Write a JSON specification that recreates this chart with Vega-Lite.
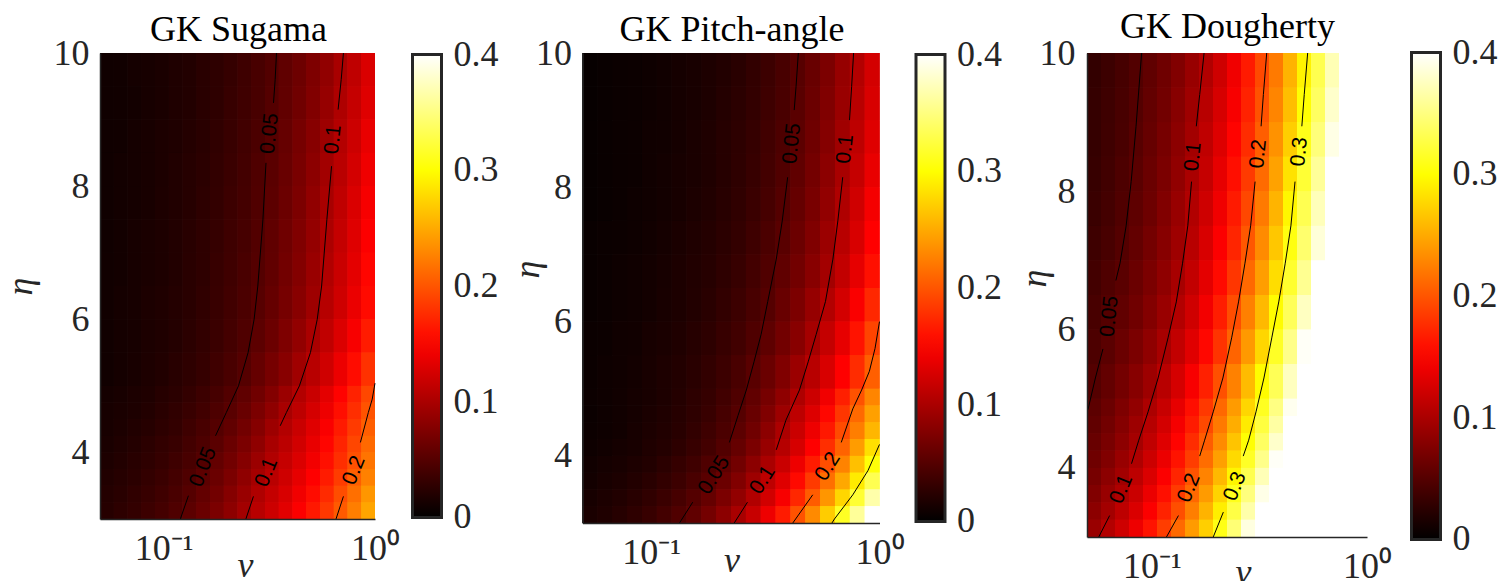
{
"$schema":"https://vega.github.io/schema/vega-lite/v6.json",
"background":"white",
"padding":{"left":2,"top":8,"right":0,"bottom":0},
"config":{"view":{"stroke":null}},
"datasets":{
"grid":[
{"nu":0.0539,"e1":9.5,"e2":10,"S":0.009,"P":0.004,"D":0.030},{"nu":0.0626,"e1":9.5,"e2":10,"S":0.010,"P":0.005,"D":0.035},{"nu":0.0727,"e1":9.5,"e2":10,"S":0.012,"P":0.006,"D":0.041},{"nu":0.0845,"e1":9.5,"e2":10,"S":0.013,"P":0.007,"D":0.048},{"nu":0.0981,"e1":9.5,"e2":10,"S":0.015,"P":0.008,"D":0.056},{"nu":0.114,"e1":9.5,"e2":10,"S":0.018,"P":0.010,"D":0.065},{"nu":0.1323,"e1":9.5,"e2":10,"S":0.020,"P":0.012,"D":0.076},{"nu":0.1537,"e1":9.5,"e2":10,"S":0.024,"P":0.014,"D":0.089},{"nu":0.1786,"e1":9.5,"e2":10,"S":0.027,"P":0.017,"D":0.104},{"nu":0.2074,"e1":9.5,"e2":10,"S":0.031,"P":0.020,"D":0.121},{"nu":0.241,"e1":9.5,"e2":10,"S":0.036,"P":0.024,"D":0.142},{"nu":0.2799,"e1":9.5,"e2":10,"S":0.042,"P":0.029,"D":0.165},{"nu":0.3252,"e1":9.5,"e2":10,"S":0.048,"P":0.035,"D":0.193},{"nu":0.3777,"e1":9.5,"e2":10,"S":0.056,"P":0.042,"D":0.222},{"nu":0.4387,"e1":9.5,"e2":10,"S":0.064,"P":0.051,"D":0.255},{"nu":0.5096,"e1":9.5,"e2":10,"S":0.074,"P":0.061,"D":0.293},{"nu":0.592,"e1":9.5,"e2":10,"S":0.085,"P":0.073,"D":0.331},{"nu":0.6876,"e1":9.5,"e2":10,"S":0.099,"P":0.088,"D":0.371},{"nu":0.7988,"e1":9.5,"e2":10,"S":0.112,"P":0.105,"D":0.416},{"nu":0.9278,"e1":9.5,"e2":10,"S":0.128,"P":0.124,"D":0.467},
{"nu":0.0539,"e1":9,"e2":9.5,"S":0.009,"P":0.004,"D":0.031},{"nu":0.0626,"e1":9,"e2":9.5,"S":0.010,"P":0.005,"D":0.036},{"nu":0.0727,"e1":9,"e2":9.5,"S":0.011,"P":0.006,"D":0.042},{"nu":0.0845,"e1":9,"e2":9.5,"S":0.013,"P":0.007,"D":0.049},{"nu":0.0981,"e1":9,"e2":9.5,"S":0.015,"P":0.008,"D":0.058},{"nu":0.114,"e1":9,"e2":9.5,"S":0.018,"P":0.010,"D":0.067},{"nu":0.1323,"e1":9,"e2":9.5,"S":0.020,"P":0.012,"D":0.079},{"nu":0.1537,"e1":9,"e2":9.5,"S":0.024,"P":0.014,"D":0.093},{"nu":0.1786,"e1":9,"e2":9.5,"S":0.027,"P":0.017,"D":0.108},{"nu":0.2074,"e1":9,"e2":9.5,"S":0.032,"P":0.021,"D":0.126},{"nu":0.241,"e1":9,"e2":9.5,"S":0.037,"P":0.025,"D":0.146},{"nu":0.2799,"e1":9,"e2":9.5,"S":0.042,"P":0.030,"D":0.170},{"nu":0.3252,"e1":9,"e2":9.5,"S":0.049,"P":0.036,"D":0.198},{"nu":0.3777,"e1":9,"e2":9.5,"S":0.057,"P":0.043,"D":0.228},{"nu":0.4387,"e1":9,"e2":9.5,"S":0.066,"P":0.052,"D":0.262},{"nu":0.5096,"e1":9,"e2":9.5,"S":0.076,"P":0.063,"D":0.301},{"nu":0.592,"e1":9,"e2":9.5,"S":0.088,"P":0.075,"D":0.338},{"nu":0.6876,"e1":9,"e2":9.5,"S":0.102,"P":0.090,"D":0.380},{"nu":0.7988,"e1":9,"e2":9.5,"S":0.116,"P":0.108,"D":0.426},{"nu":0.9278,"e1":9,"e2":9.5,"S":0.131,"P":0.127,"D":0.478},
{"nu":0.0539,"e1":8.5,"e2":9,"S":0.009,"P":0.004,"D":0.031},{"nu":0.0626,"e1":8.5,"e2":9,"S":0.010,"P":0.005,"D":0.037},{"nu":0.0727,"e1":8.5,"e2":9,"S":0.012,"P":0.006,"D":0.043},{"nu":0.0845,"e1":8.5,"e2":9,"S":0.014,"P":0.007,"D":0.051},{"nu":0.0981,"e1":8.5,"e2":9,"S":0.016,"P":0.009,"D":0.060},{"nu":0.114,"e1":8.5,"e2":9,"S":0.018,"P":0.010,"D":0.070},{"nu":0.1323,"e1":8.5,"e2":9,"S":0.021,"P":0.012,"D":0.082},{"nu":0.1537,"e1":8.5,"e2":9,"S":0.024,"P":0.015,"D":0.096},{"nu":0.1786,"e1":8.5,"e2":9,"S":0.028,"P":0.018,"D":0.112},{"nu":0.2074,"e1":8.5,"e2":9,"S":0.033,"P":0.022,"D":0.130},{"nu":0.241,"e1":8.5,"e2":9,"S":0.038,"P":0.026,"D":0.152},{"nu":0.2799,"e1":8.5,"e2":9,"S":0.044,"P":0.031,"D":0.176},{"nu":0.3252,"e1":8.5,"e2":9,"S":0.051,"P":0.038,"D":0.205},{"nu":0.3777,"e1":8.5,"e2":9,"S":0.059,"P":0.045,"D":0.236},{"nu":0.4387,"e1":8.5,"e2":9,"S":0.069,"P":0.054,"D":0.271},{"nu":0.5096,"e1":8.5,"e2":9,"S":0.079,"P":0.065,"D":0.310},{"nu":0.592,"e1":8.5,"e2":9,"S":0.092,"P":0.078,"D":0.348},{"nu":0.6876,"e1":8.5,"e2":9,"S":0.106,"P":0.094,"D":0.390},{"nu":0.7988,"e1":8.5,"e2":9,"S":0.120,"P":0.111,"D":0.438},{"nu":0.9278,"e1":8.5,"e2":9,"S":0.137,"P":0.131,"D":0.492},
{"nu":0.0539,"e1":8,"e2":8.5,"S":0.009,"P":0.004,"D":0.032},{"nu":0.0626,"e1":8,"e2":8.5,"S":0.011,"P":0.005,"D":0.038},{"nu":0.0727,"e1":8,"e2":8.5,"S":0.012,"P":0.006,"D":0.045},{"nu":0.0845,"e1":8,"e2":8.5,"S":0.014,"P":0.007,"D":0.053},{"nu":0.0981,"e1":8,"e2":8.5,"S":0.016,"P":0.009,"D":0.062},{"nu":0.114,"e1":8,"e2":8.5,"S":0.019,"P":0.011,"D":0.072},{"nu":0.1323,"e1":8,"e2":8.5,"S":0.022,"P":0.013,"D":0.085},{"nu":0.1537,"e1":8,"e2":8.5,"S":0.025,"P":0.015,"D":0.100},{"nu":0.1786,"e1":8,"e2":8.5,"S":0.029,"P":0.018,"D":0.116},{"nu":0.2074,"e1":8,"e2":8.5,"S":0.034,"P":0.022,"D":0.136},{"nu":0.241,"e1":8,"e2":8.5,"S":0.039,"P":0.027,"D":0.158},{"nu":0.2799,"e1":8,"e2":8.5,"S":0.046,"P":0.032,"D":0.184},{"nu":0.3252,"e1":8,"e2":8.5,"S":0.053,"P":0.039,"D":0.213},{"nu":0.3777,"e1":8,"e2":8.5,"S":0.061,"P":0.047,"D":0.245},{"nu":0.4387,"e1":8,"e2":8.5,"S":0.071,"P":0.056,"D":0.283},{"nu":0.5096,"e1":8,"e2":8.5,"S":0.082,"P":0.068,"D":0.321},{"nu":0.592,"e1":8,"e2":8.5,"S":0.095,"P":0.082,"D":0.360},{"nu":0.6876,"e1":8,"e2":8.5,"S":0.109,"P":0.099,"D":0.404},{"nu":0.7988,"e1":8,"e2":8.5,"S":0.124,"P":0.116,"D":0.454},{"nu":0.9278,"e1":8,"e2":8.5,"S":0.141,"P":0.137,"D":0.509},
{"nu":0.0539,"e1":7.5,"e2":8,"S":0.009,"P":0.004,"D":0.034},{"nu":0.0626,"e1":7.5,"e2":8,"S":0.011,"P":0.005,"D":0.040},{"nu":0.0727,"e1":7.5,"e2":8,"S":0.012,"P":0.006,"D":0.047},{"nu":0.0845,"e1":7.5,"e2":8,"S":0.014,"P":0.008,"D":0.055},{"nu":0.0981,"e1":7.5,"e2":8,"S":0.017,"P":0.009,"D":0.064},{"nu":0.114,"e1":7.5,"e2":8,"S":0.019,"P":0.011,"D":0.076},{"nu":0.1323,"e1":7.5,"e2":8,"S":0.022,"P":0.013,"D":0.089},{"nu":0.1537,"e1":7.5,"e2":8,"S":0.026,"P":0.016,"D":0.104},{"nu":0.1786,"e1":7.5,"e2":8,"S":0.030,"P":0.019,"D":0.121},{"nu":0.2074,"e1":7.5,"e2":8,"S":0.035,"P":0.023,"D":0.141},{"nu":0.241,"e1":7.5,"e2":8,"S":0.040,"P":0.028,"D":0.165},{"nu":0.2799,"e1":7.5,"e2":8,"S":0.047,"P":0.034,"D":0.192},{"nu":0.3252,"e1":7.5,"e2":8,"S":0.054,"P":0.041,"D":0.222},{"nu":0.3777,"e1":7.5,"e2":8,"S":0.063,"P":0.049,"D":0.256},{"nu":0.4387,"e1":7.5,"e2":8,"S":0.073,"P":0.059,"D":0.295},{"nu":0.5096,"e1":7.5,"e2":8,"S":0.085,"P":0.071,"D":0.332},{"nu":0.592,"e1":7.5,"e2":8,"S":0.099,"P":0.086,"D":0.373},{"nu":0.6876,"e1":7.5,"e2":8,"S":0.112,"P":0.103,"D":0.418},{"nu":0.7988,"e1":7.5,"e2":8,"S":0.128,"P":0.122,"D":0.470},{"nu":0.9278,"e1":7.5,"e2":8,"S":0.145,"P":0.144,"D":0.527},
{"nu":0.0539,"e1":7,"e2":7.5,"S":0.009,"P":0.005,"D":0.036},{"nu":0.0626,"e1":7,"e2":7.5,"S":0.011,"P":0.006,"D":0.042},{"nu":0.0727,"e1":7,"e2":7.5,"S":0.013,"P":0.007,"D":0.049},{"nu":0.0845,"e1":7,"e2":7.5,"S":0.015,"P":0.008,"D":0.058},{"nu":0.0981,"e1":7,"e2":7.5,"S":0.017,"P":0.010,"D":0.068},{"nu":0.114,"e1":7,"e2":7.5,"S":0.020,"P":0.012,"D":0.079},{"nu":0.1323,"e1":7,"e2":7.5,"S":0.023,"P":0.015,"D":0.093},{"nu":0.1537,"e1":7,"e2":7.5,"S":0.027,"P":0.018,"D":0.108},{"nu":0.1786,"e1":7,"e2":7.5,"S":0.031,"P":0.021,"D":0.127},{"nu":0.2074,"e1":7,"e2":7.5,"S":0.036,"P":0.025,"D":0.148},{"nu":0.241,"e1":7,"e2":7.5,"S":0.041,"P":0.030,"D":0.172},{"nu":0.2799,"e1":7,"e2":7.5,"S":0.048,"P":0.036,"D":0.201},{"nu":0.3252,"e1":7,"e2":7.5,"S":0.056,"P":0.044,"D":0.232},{"nu":0.3777,"e1":7,"e2":7.5,"S":0.065,"P":0.052,"D":0.267},{"nu":0.4387,"e1":7,"e2":7.5,"S":0.075,"P":0.063,"D":0.306},{"nu":0.5096,"e1":7,"e2":7.5,"S":0.087,"P":0.075,"D":0.343},{"nu":0.592,"e1":7,"e2":7.5,"S":0.101,"P":0.091,"D":0.385},{"nu":0.6876,"e1":7,"e2":7.5,"S":0.115,"P":0.108,"D":0.432},{"nu":0.7988,"e1":7,"e2":7.5,"S":0.131,"P":0.127,"D":0.485},{"nu":0.9278,"e1":7,"e2":7.5,"S":0.149,"P":0.150,"D":0.545},
{"nu":0.0539,"e1":6.5,"e2":7,"S":0.010,"P":0.005,"D":0.039},{"nu":0.0626,"e1":6.5,"e2":7,"S":0.011,"P":0.006,"D":0.046},{"nu":0.0727,"e1":6.5,"e2":7,"S":0.013,"P":0.008,"D":0.053},{"nu":0.0845,"e1":6.5,"e2":7,"S":0.015,"P":0.009,"D":0.062},{"nu":0.0981,"e1":6.5,"e2":7,"S":0.017,"P":0.011,"D":0.072},{"nu":0.114,"e1":6.5,"e2":7,"S":0.020,"P":0.013,"D":0.084},{"nu":0.1323,"e1":6.5,"e2":7,"S":0.024,"P":0.016,"D":0.098},{"nu":0.1537,"e1":6.5,"e2":7,"S":0.027,"P":0.019,"D":0.114},{"nu":0.1786,"e1":6.5,"e2":7,"S":0.032,"P":0.022,"D":0.134},{"nu":0.2074,"e1":6.5,"e2":7,"S":0.037,"P":0.027,"D":0.156},{"nu":0.241,"e1":6.5,"e2":7,"S":0.043,"P":0.032,"D":0.182},{"nu":0.2799,"e1":6.5,"e2":7,"S":0.049,"P":0.039,"D":0.212},{"nu":0.3252,"e1":6.5,"e2":7,"S":0.057,"P":0.047,"D":0.243},{"nu":0.3777,"e1":6.5,"e2":7,"S":0.067,"P":0.056,"D":0.280},{"nu":0.4387,"e1":6.5,"e2":7,"S":0.077,"P":0.067,"D":0.318},{"nu":0.5096,"e1":6.5,"e2":7,"S":0.090,"P":0.080,"D":0.357},{"nu":0.592,"e1":6.5,"e2":7,"S":0.104,"P":0.096,"D":0.401},{"nu":0.6876,"e1":6.5,"e2":7,"S":0.118,"P":0.114,"D":0.449},{"nu":0.7988,"e1":6.5,"e2":7,"S":0.134,"P":0.135,"D":0.505},{"nu":0.9278,"e1":6.5,"e2":7,"S":0.153,"P":0.159,"D":0.566},
{"nu":0.0539,"e1":6,"e2":6.5,"S":0.010,"P":0.005,"D":0.042},{"nu":0.0626,"e1":6,"e2":6.5,"S":0.012,"P":0.006,"D":0.049},{"nu":0.0727,"e1":6,"e2":6.5,"S":0.013,"P":0.008,"D":0.057},{"nu":0.0845,"e1":6,"e2":6.5,"S":0.016,"P":0.009,"D":0.066},{"nu":0.0981,"e1":6,"e2":6.5,"S":0.018,"P":0.011,"D":0.077},{"nu":0.114,"e1":6,"e2":6.5,"S":0.021,"P":0.014,"D":0.090},{"nu":0.1323,"e1":6,"e2":6.5,"S":0.024,"P":0.016,"D":0.105},{"nu":0.1537,"e1":6,"e2":6.5,"S":0.028,"P":0.020,"D":0.122},{"nu":0.1786,"e1":6,"e2":6.5,"S":0.033,"P":0.024,"D":0.143},{"nu":0.2074,"e1":6,"e2":6.5,"S":0.038,"P":0.029,"D":0.167},{"nu":0.241,"e1":6,"e2":6.5,"S":0.044,"P":0.035,"D":0.195},{"nu":0.2799,"e1":6,"e2":6.5,"S":0.051,"P":0.042,"D":0.225},{"nu":0.3252,"e1":6,"e2":6.5,"S":0.059,"P":0.050,"D":0.259},{"nu":0.3777,"e1":6,"e2":6.5,"S":0.069,"P":0.061,"D":0.298},{"nu":0.4387,"e1":6,"e2":6.5,"S":0.080,"P":0.073,"D":0.335},{"nu":0.5096,"e1":6,"e2":6.5,"S":0.093,"P":0.088,"D":0.376},{"nu":0.592,"e1":6,"e2":6.5,"S":0.107,"P":0.105,"D":0.422},{"nu":0.6876,"e1":6,"e2":6.5,"S":0.121,"P":0.124,"D":0.474},{"nu":0.7988,"e1":6,"e2":6.5,"S":0.138,"P":0.147,"D":0.532},{"nu":0.9278,"e1":6,"e2":6.5,"S":0.156,"P":0.173,"D":0.597},
{"nu":0.0539,"e1":5.5,"e2":6,"S":0.010,"P":0.006,"D":0.045},{"nu":0.0626,"e1":5.5,"e2":6,"S":0.012,"P":0.007,"D":0.053},{"nu":0.0727,"e1":5.5,"e2":6,"S":0.013,"P":0.009,"D":0.062},{"nu":0.0845,"e1":5.5,"e2":6,"S":0.016,"P":0.010,"D":0.072},{"nu":0.0981,"e1":5.5,"e2":6,"S":0.018,"P":0.013,"D":0.084},{"nu":0.114,"e1":5.5,"e2":6,"S":0.021,"P":0.015,"D":0.098},{"nu":0.1323,"e1":5.5,"e2":6,"S":0.025,"P":0.018,"D":0.114},{"nu":0.1537,"e1":5.5,"e2":6,"S":0.029,"P":0.022,"D":0.132},{"nu":0.1786,"e1":5.5,"e2":6,"S":0.034,"P":0.026,"D":0.154},{"nu":0.2074,"e1":5.5,"e2":6,"S":0.040,"P":0.032,"D":0.180},{"nu":0.241,"e1":5.5,"e2":6,"S":0.046,"P":0.038,"D":0.209},{"nu":0.2799,"e1":5.5,"e2":6,"S":0.054,"P":0.046,"D":0.240},{"nu":0.3252,"e1":5.5,"e2":6,"S":0.063,"P":0.055,"D":0.276},{"nu":0.3777,"e1":5.5,"e2":6,"S":0.074,"P":0.067,"D":0.315},{"nu":0.4387,"e1":5.5,"e2":6,"S":0.086,"P":0.080,"D":0.354},{"nu":0.5096,"e1":5.5,"e2":6,"S":0.100,"P":0.097,"D":0.397},{"nu":0.592,"e1":5.5,"e2":6,"S":0.113,"P":0.115,"D":0.445},{"nu":0.6876,"e1":5.5,"e2":6,"S":0.129,"P":0.136,"D":0.500},{"nu":0.7988,"e1":5.5,"e2":6,"S":0.146,"P":0.161,"D":0.561},{"nu":0.9278,"e1":5.5,"e2":6,"S":0.166,"P":0.190,"D":0.630},
{"nu":0.0539,"e1":5,"e2":5.5,"S":0.010,"P":0.006,"D":0.049},{"nu":0.0626,"e1":5,"e2":5.5,"S":0.012,"P":0.008,"D":0.058},{"nu":0.0727,"e1":5,"e2":5.5,"S":0.014,"P":0.009,"D":0.068},{"nu":0.0845,"e1":5,"e2":5.5,"S":0.017,"P":0.011,"D":0.079},{"nu":0.0981,"e1":5,"e2":5.5,"S":0.019,"P":0.014,"D":0.092},{"nu":0.114,"e1":5,"e2":5.5,"S":0.023,"P":0.017,"D":0.108},{"nu":0.1323,"e1":5,"e2":5.5,"S":0.027,"P":0.020,"D":0.125},{"nu":0.1537,"e1":5,"e2":5.5,"S":0.031,"P":0.024,"D":0.146},{"nu":0.1786,"e1":5,"e2":5.5,"S":0.037,"P":0.029,"D":0.169},{"nu":0.2074,"e1":5,"e2":5.5,"S":0.043,"P":0.035,"D":0.197},{"nu":0.241,"e1":5,"e2":5.5,"S":0.050,"P":0.043,"D":0.226},{"nu":0.2799,"e1":5,"e2":5.5,"S":0.059,"P":0.052,"D":0.260},{"nu":0.3252,"e1":5,"e2":5.5,"S":0.069,"P":0.062,"D":0.298},{"nu":0.3777,"e1":5,"e2":5.5,"S":0.080,"P":0.075,"D":0.334},{"nu":0.4387,"e1":5,"e2":5.5,"S":0.094,"P":0.091,"D":0.375},{"nu":0.5096,"e1":5,"e2":5.5,"S":0.108,"P":0.108,"D":0.421},{"nu":0.592,"e1":5,"e2":5.5,"S":0.122,"P":0.127,"D":0.473},{"nu":0.6876,"e1":5,"e2":5.5,"S":0.139,"P":0.150,"D":0.531},{"nu":0.7988,"e1":5,"e2":5.5,"S":0.157,"P":0.176,"D":0.596},{"nu":0.9278,"e1":5,"e2":5.5,"S":0.179,"P":0.206,"D":0.669},
{"nu":0.0539,"e1":4.75,"e2":5,"S":0.012,"P":0.007,"D":0.054},{"nu":0.0626,"e1":4.75,"e2":5,"S":0.014,"P":0.008,"D":0.063},{"nu":0.0727,"e1":4.75,"e2":5,"S":0.016,"P":0.010,"D":0.074},{"nu":0.0845,"e1":4.75,"e2":5,"S":0.018,"P":0.012,"D":0.086},{"nu":0.0981,"e1":4.75,"e2":5,"S":0.022,"P":0.014,"D":0.101},{"nu":0.114,"e1":4.75,"e2":5,"S":0.025,"P":0.017,"D":0.117},{"nu":0.1323,"e1":4.75,"e2":5,"S":0.030,"P":0.021,"D":0.136},{"nu":0.1537,"e1":4.75,"e2":5,"S":0.035,"P":0.026,"D":0.158},{"nu":0.1786,"e1":4.75,"e2":5,"S":0.041,"P":0.031,"D":0.183},{"nu":0.2074,"e1":4.75,"e2":5,"S":0.048,"P":0.038,"D":0.211},{"nu":0.241,"e1":4.75,"e2":5,"S":0.056,"P":0.046,"D":0.241},{"nu":0.2799,"e1":4.75,"e2":5,"S":0.066,"P":0.057,"D":0.276},{"nu":0.3252,"e1":4.75,"e2":5,"S":0.077,"P":0.069,"D":0.313},{"nu":0.3777,"e1":4.75,"e2":5,"S":0.091,"P":0.084,"D":0.351},{"nu":0.4387,"e1":4.75,"e2":5,"S":0.105,"P":0.102,"D":0.394},{"nu":0.5096,"e1":4.75,"e2":5,"S":0.118,"P":0.120,"D":0.442},{"nu":0.592,"e1":4.75,"e2":5,"S":0.134,"P":0.142,"D":0.497},{"nu":0.6876,"e1":4.75,"e2":5,"S":0.151,"P":0.168,"D":0.557},{"nu":0.7988,"e1":4.75,"e2":5,"S":0.170,"P":0.198,"D":0.626},{"nu":0.9278,"e1":4.75,"e2":5,"S":0.192,"P":0.228,"D":0.702},
{"nu":0.0539,"e1":4.5,"e2":4.75,"S":0.013,"P":0.006,"D":0.057},{"nu":0.0626,"e1":4.5,"e2":4.75,"S":0.015,"P":0.008,"D":0.067},{"nu":0.0727,"e1":4.5,"e2":4.75,"S":0.017,"P":0.010,"D":0.078},{"nu":0.0845,"e1":4.5,"e2":4.75,"S":0.020,"P":0.012,"D":0.092},{"nu":0.0981,"e1":4.5,"e2":4.75,"S":0.024,"P":0.015,"D":0.107},{"nu":0.114,"e1":4.5,"e2":4.75,"S":0.028,"P":0.018,"D":0.124},{"nu":0.1323,"e1":4.5,"e2":4.75,"S":0.033,"P":0.022,"D":0.144},{"nu":0.1537,"e1":4.5,"e2":4.75,"S":0.038,"P":0.027,"D":0.166},{"nu":0.1786,"e1":4.5,"e2":4.75,"S":0.045,"P":0.033,"D":0.193},{"nu":0.2074,"e1":4.5,"e2":4.75,"S":0.052,"P":0.041,"D":0.221},{"nu":0.241,"e1":4.5,"e2":4.75,"S":0.061,"P":0.050,"D":0.252},{"nu":0.2799,"e1":4.5,"e2":4.75,"S":0.072,"P":0.061,"D":0.288},{"nu":0.3252,"e1":4.5,"e2":4.75,"S":0.084,"P":0.075,"D":0.325},{"nu":0.3777,"e1":4.5,"e2":4.75,"S":0.099,"P":0.092,"D":0.364},{"nu":0.4387,"e1":4.5,"e2":4.75,"S":0.111,"P":0.111,"D":0.409},{"nu":0.5096,"e1":4.5,"e2":4.75,"S":0.125,"P":0.130,"D":0.459},{"nu":0.592,"e1":4.5,"e2":4.75,"S":0.140,"P":0.154,"D":0.515},{"nu":0.6876,"e1":4.5,"e2":4.75,"S":0.158,"P":0.182,"D":0.578},{"nu":0.7988,"e1":4.5,"e2":4.75,"S":0.177,"P":0.212,"D":0.649},{"nu":0.9278,"e1":4.5,"e2":4.75,"S":0.199,"P":0.244,"D":0.729},
{"nu":0.0539,"e1":4.25,"e2":4.5,"S":0.014,"P":0.007,"D":0.061},{"nu":0.0626,"e1":4.25,"e2":4.5,"S":0.016,"P":0.008,"D":0.071},{"nu":0.0727,"e1":4.25,"e2":4.5,"S":0.019,"P":0.010,"D":0.083},{"nu":0.0845,"e1":4.25,"e2":4.5,"S":0.022,"P":0.013,"D":0.097},{"nu":0.0981,"e1":4.25,"e2":4.5,"S":0.026,"P":0.016,"D":0.113},{"nu":0.114,"e1":4.25,"e2":4.5,"S":0.030,"P":0.019,"D":0.131},{"nu":0.1323,"e1":4.25,"e2":4.5,"S":0.036,"P":0.023,"D":0.152},{"nu":0.1537,"e1":4.25,"e2":4.5,"S":0.042,"P":0.029,"D":0.176},{"nu":0.1786,"e1":4.25,"e2":4.5,"S":0.049,"P":0.036,"D":0.204},{"nu":0.2074,"e1":4.25,"e2":4.5,"S":0.057,"P":0.044,"D":0.232},{"nu":0.241,"e1":4.25,"e2":4.5,"S":0.067,"P":0.054,"D":0.265},{"nu":0.2799,"e1":4.25,"e2":4.5,"S":0.078,"P":0.066,"D":0.301},{"nu":0.3252,"e1":4.25,"e2":4.5,"S":0.092,"P":0.082,"D":0.338},{"nu":0.3777,"e1":4.25,"e2":4.5,"S":0.105,"P":0.101,"D":0.380},{"nu":0.4387,"e1":4.25,"e2":4.5,"S":0.118,"P":0.119,"D":0.426},{"nu":0.5096,"e1":4.25,"e2":4.5,"S":0.132,"P":0.140,"D":0.478},{"nu":0.592,"e1":4.25,"e2":4.5,"S":0.147,"P":0.164,"D":0.537},{"nu":0.6876,"e1":4.25,"e2":4.5,"S":0.165,"P":0.194,"D":0.603},{"nu":0.7988,"e1":4.25,"e2":4.5,"S":0.184,"P":0.224,"D":0.677},{"nu":0.9278,"e1":4.25,"e2":4.5,"S":0.205,"P":0.257,"D":0.760},
{"nu":0.0539,"e1":4,"e2":4.25,"S":0.015,"P":0.008,"D":0.065},{"nu":0.0626,"e1":4,"e2":4.25,"S":0.018,"P":0.010,"D":0.076},{"nu":0.0727,"e1":4,"e2":4.25,"S":0.021,"P":0.012,"D":0.089},{"nu":0.0845,"e1":4,"e2":4.25,"S":0.025,"P":0.014,"D":0.103},{"nu":0.0981,"e1":4,"e2":4.25,"S":0.029,"P":0.018,"D":0.120},{"nu":0.114,"e1":4,"e2":4.25,"S":0.033,"P":0.021,"D":0.139},{"nu":0.1323,"e1":4,"e2":4.25,"S":0.039,"P":0.026,"D":0.161},{"nu":0.1537,"e1":4,"e2":4.25,"S":0.045,"P":0.032,"D":0.186},{"nu":0.1786,"e1":4,"e2":4.25,"S":0.053,"P":0.039,"D":0.214},{"nu":0.2074,"e1":4,"e2":4.25,"S":0.062,"P":0.048,"D":0.244},{"nu":0.241,"e1":4,"e2":4.25,"S":0.072,"P":0.059,"D":0.278},{"nu":0.2799,"e1":4,"e2":4.25,"S":0.084,"P":0.072,"D":0.315},{"nu":0.3252,"e1":4,"e2":4.25,"S":0.099,"P":0.089,"D":0.354},{"nu":0.3777,"e1":4,"e2":4.25,"S":0.110,"P":0.107,"D":0.397},{"nu":0.4387,"e1":4,"e2":4.25,"S":0.123,"P":0.126,"D":0.445},{"nu":0.5096,"e1":4,"e2":4.25,"S":0.137,"P":0.150,"D":0.500},{"nu":0.592,"e1":4,"e2":4.25,"S":0.153,"P":0.177,"D":0.561},{"nu":0.6876,"e1":4,"e2":4.25,"S":0.171,"P":0.208,"D":0.630},{"nu":0.7988,"e1":4,"e2":4.25,"S":0.191,"P":0.242,"D":0.707},{"nu":0.9278,"e1":4,"e2":4.25,"S":0.212,"P":0.281,"D":0.793},
{"nu":0.0539,"e1":3.75,"e2":4,"S":0.017,"P":0.010,"D":0.070},{"nu":0.0626,"e1":3.75,"e2":4,"S":0.020,"P":0.012,"D":0.082},{"nu":0.0727,"e1":3.75,"e2":4,"S":0.023,"P":0.014,"D":0.095},{"nu":0.0845,"e1":3.75,"e2":4,"S":0.027,"P":0.017,"D":0.111},{"nu":0.0981,"e1":3.75,"e2":4,"S":0.031,"P":0.020,"D":0.128},{"nu":0.114,"e1":3.75,"e2":4,"S":0.036,"P":0.025,"D":0.148},{"nu":0.1323,"e1":3.75,"e2":4,"S":0.042,"P":0.031,"D":0.172},{"nu":0.1537,"e1":3.75,"e2":4,"S":0.049,"P":0.037,"D":0.199},{"nu":0.1786,"e1":3.75,"e2":4,"S":0.058,"P":0.046,"D":0.227},{"nu":0.2074,"e1":3.75,"e2":4,"S":0.067,"P":0.055,"D":0.258},{"nu":0.241,"e1":3.75,"e2":4,"S":0.078,"P":0.067,"D":0.294},{"nu":0.2799,"e1":3.75,"e2":4,"S":0.091,"P":0.082,"D":0.331},{"nu":0.3252,"e1":3.75,"e2":4,"S":0.104,"P":0.100,"D":0.372},{"nu":0.3777,"e1":3.75,"e2":4,"S":0.116,"P":0.118,"D":0.418},{"nu":0.4387,"e1":3.75,"e2":4,"S":0.129,"P":0.140,"D":0.469},{"nu":0.5096,"e1":3.75,"e2":4,"S":0.143,"P":0.166,"D":0.526},{"nu":0.592,"e1":3.75,"e2":4,"S":0.159,"P":0.196,"D":0.590},{"nu":0.6876,"e1":3.75,"e2":4,"S":0.177,"P":0.227,"D":0.663},{"nu":0.7988,"e1":3.75,"e2":4,"S":0.197,"P":0.263,"D":0.744},{"nu":0.9278,"e1":3.75,"e2":4,"S":0.218,"P":0.303,"D":0.835},
{"nu":0.0539,"e1":3.5,"e2":3.75,"S":0.019,"P":0.011,"D":0.076},{"nu":0.0626,"e1":3.5,"e2":3.75,"S":0.022,"P":0.014,"D":0.089},{"nu":0.0727,"e1":3.5,"e2":3.75,"S":0.025,"P":0.016,"D":0.103},{"nu":0.0845,"e1":3.5,"e2":3.75,"S":0.030,"P":0.020,"D":0.119},{"nu":0.0981,"e1":3.5,"e2":3.75,"S":0.034,"P":0.024,"D":0.138},{"nu":0.114,"e1":3.5,"e2":3.75,"S":0.040,"P":0.029,"D":0.159},{"nu":0.1323,"e1":3.5,"e2":3.75,"S":0.046,"P":0.035,"D":0.184},{"nu":0.1537,"e1":3.5,"e2":3.75,"S":0.054,"P":0.043,"D":0.211},{"nu":0.1786,"e1":3.5,"e2":3.75,"S":0.062,"P":0.052,"D":0.241},{"nu":0.2074,"e1":3.5,"e2":3.75,"S":0.072,"P":0.063,"D":0.274},{"nu":0.241,"e1":3.5,"e2":3.75,"S":0.084,"P":0.076,"D":0.311},{"nu":0.2799,"e1":3.5,"e2":3.75,"S":0.097,"P":0.093,"D":0.349},{"nu":0.3252,"e1":3.5,"e2":3.75,"S":0.109,"P":0.111,"D":0.391},{"nu":0.3777,"e1":3.5,"e2":3.75,"S":0.121,"P":0.131,"D":0.439},{"nu":0.4387,"e1":3.5,"e2":3.75,"S":0.135,"P":0.155,"D":0.493},{"nu":0.5096,"e1":3.5,"e2":3.75,"S":0.150,"P":0.184,"D":0.553},{"nu":0.592,"e1":3.5,"e2":3.75,"S":0.166,"P":0.215,"D":0.621},{"nu":0.6876,"e1":3.5,"e2":3.75,"S":0.185,"P":0.249,"D":0.697},{"nu":0.7988,"e1":3.5,"e2":3.75,"S":0.205,"P":0.288,"D":0.782},{"nu":0.9278,"e1":3.5,"e2":3.75,"S":0.226,"P":0.332,"D":0.878},
{"nu":0.0539,"e1":3.25,"e2":3.5,"S":0.021,"P":0.013,"D":0.082},{"nu":0.0626,"e1":3.25,"e2":3.5,"S":0.024,"P":0.016,"D":0.096},{"nu":0.0727,"e1":3.25,"e2":3.5,"S":0.028,"P":0.019,"D":0.111},{"nu":0.0845,"e1":3.25,"e2":3.5,"S":0.032,"P":0.023,"D":0.128},{"nu":0.0981,"e1":3.25,"e2":3.5,"S":0.037,"P":0.028,"D":0.148},{"nu":0.114,"e1":3.25,"e2":3.5,"S":0.043,"P":0.034,"D":0.170},{"nu":0.1323,"e1":3.25,"e2":3.5,"S":0.050,"P":0.041,"D":0.196},{"nu":0.1537,"e1":3.25,"e2":3.5,"S":0.058,"P":0.049,"D":0.224},{"nu":0.1786,"e1":3.25,"e2":3.5,"S":0.067,"P":0.059,"D":0.255},{"nu":0.2074,"e1":3.25,"e2":3.5,"S":0.078,"P":0.072,"D":0.290},{"nu":0.241,"e1":3.25,"e2":3.5,"S":0.090,"P":0.086,"D":0.327},{"nu":0.2799,"e1":3.25,"e2":3.5,"S":0.103,"P":0.104,"D":0.367},{"nu":0.3252,"e1":3.25,"e2":3.5,"S":0.115,"P":0.123,"D":0.412},{"nu":0.3777,"e1":3.25,"e2":3.5,"S":0.127,"P":0.146,"D":0.462},{"nu":0.4387,"e1":3.25,"e2":3.5,"S":0.142,"P":0.173,"D":0.519},{"nu":0.5096,"e1":3.25,"e2":3.5,"S":0.157,"P":0.204,"D":0.582},{"nu":0.592,"e1":3.25,"e2":3.5,"S":0.175,"P":0.238,"D":0.654},{"nu":0.6876,"e1":3.25,"e2":3.5,"S":0.195,"P":0.276,"D":0.734},{"nu":0.7988,"e1":3.25,"e2":3.5,"S":0.215,"P":0.320,"D":0.824},{"nu":0.9278,"e1":3.25,"e2":3.5,"S":0.238,"P":0.367,"D":0.924},
{"nu":0.0539,"e1":3,"e2":3.25,"S":0.022,"P":0.015,"D":0.090},{"nu":0.0626,"e1":3,"e2":3.25,"S":0.026,"P":0.018,"D":0.105},{"nu":0.0727,"e1":3,"e2":3.25,"S":0.030,"P":0.022,"D":0.121},{"nu":0.0845,"e1":3,"e2":3.25,"S":0.035,"P":0.027,"D":0.140},{"nu":0.0981,"e1":3,"e2":3.25,"S":0.040,"P":0.032,"D":0.161},{"nu":0.114,"e1":3,"e2":3.25,"S":0.046,"P":0.039,"D":0.186},{"nu":0.1323,"e1":3,"e2":3.25,"S":0.054,"P":0.047,"D":0.212},{"nu":0.1537,"e1":3,"e2":3.25,"S":0.062,"P":0.056,"D":0.241},{"nu":0.1786,"e1":3,"e2":3.25,"S":0.072,"P":0.068,"D":0.272},{"nu":0.2074,"e1":3,"e2":3.25,"S":0.083,"P":0.082,"D":0.308},{"nu":0.241,"e1":3,"e2":3.25,"S":0.096,"P":0.099,"D":0.346},{"nu":0.2799,"e1":3,"e2":3.25,"S":0.108,"P":0.117,"D":0.388},{"nu":0.3252,"e1":3,"e2":3.25,"S":0.120,"P":0.140,"D":0.436},{"nu":0.3777,"e1":3,"e2":3.25,"S":0.133,"P":0.166,"D":0.489},{"nu":0.4387,"e1":3,"e2":3.25,"S":0.148,"P":0.198,"D":0.549},{"nu":0.5096,"e1":3,"e2":3.25,"S":0.164,"P":0.231,"D":0.616},{"nu":0.592,"e1":3,"e2":3.25,"S":0.183,"P":0.270,"D":0.692},{"nu":0.6876,"e1":3,"e2":3.25,"S":0.203,"P":0.314,"D":0.776},{"nu":0.7988,"e1":3,"e2":3.25,"S":0.224,"P":0.360,"D":0.871},{"nu":0.9278,"e1":3,"e2":3.25,"S":0.247,"P":0.414,"D":0.978}
],
"lines":[
{"p":"S","seg":"S05a","nu":0.342,"eta":10},{"p":"S","seg":"S05a","nu":0.337,"eta":9.6},{"p":"S","seg":"S05a","nu":0.331,"eta":9.25},
{"p":"S","seg":"S05b","nu":0.305,"eta":8.35},{"p":"S","seg":"S05b","nu":0.295,"eta":7.5},{"p":"S","seg":"S05b","nu":0.279,"eta":6.5},{"p":"S","seg":"S05b","nu":0.268,"eta":6.0},{"p":"S","seg":"S05b","nu":0.251,"eta":5.5},{"p":"S","seg":"S05b","nu":0.226,"eta":5.0},{"p":"S","seg":"S05b","nu":0.198,"eta":4.6},{"p":"S","seg":"S05b","nu":0.176,"eta":4.25},
{"p":"S","seg":"S05c","nu":0.131,"eta":3.35},{"p":"S","seg":"S05c","nu":0.120,"eta":3.0},
{"p":"S","seg":"S10a","nu":0.709,"eta":10},{"p":"S","seg":"S10a","nu":0.692,"eta":9.6},{"p":"S","seg":"S10a","nu":0.669,"eta":9.15},
{"p":"S","seg":"S10b","nu":0.623,"eta":8.3},{"p":"S","seg":"S10b","nu":0.592,"eta":7.5},{"p":"S","seg":"S10b","nu":0.559,"eta":6.5},{"p":"S","seg":"S10b","nu":0.533,"eta":6.0},{"p":"S","seg":"S10b","nu":0.495,"eta":5.5},{"p":"S","seg":"S10b","nu":0.439,"eta":5.0},{"p":"S","seg":"S10b","nu":0.381,"eta":4.6},{"p":"S","seg":"S10b","nu":0.356,"eta":4.4},
{"p":"S","seg":"S10c","nu":0.266,"eta":3.34},{"p":"S","seg":"S10c","nu":0.245,"eta":3.0},
{"p":"S","seg":"S20a","nu":1.0,"eta":5.04},{"p":"S","seg":"S20a","nu":0.970,"eta":4.8},{"p":"S","seg":"S20a","nu":0.930,"eta":4.6},{"p":"S","seg":"S20a","nu":0.853,"eta":4.15},
{"p":"S","seg":"S20b","nu":0.709,"eta":3.34},{"p":"S","seg":"S20b","nu":0.654,"eta":3.0},
{"p":"P","seg":"P05a","nu":0.441,"eta":10},{"p":"P","seg":"P05a","nu":0.431,"eta":9.5},{"p":"P","seg":"P05a","nu":0.423,"eta":9.15},
{"p":"P","seg":"P05b","nu":0.396,"eta":8.15},{"p":"P","seg":"P05b","nu":0.375,"eta":7.5},{"p":"P","seg":"P05b","nu":0.353,"eta":6.93},{"p":"P","seg":"P05b","nu":0.324,"eta":6.3},{"p":"P","seg":"P05b","nu":0.303,"eta":5.81},{"p":"P","seg":"P05b","nu":0.282,"eta":5.4},{"p":"P","seg":"P05b","nu":0.261,"eta":4.98},{"p":"P","seg":"P05b","nu":0.240,"eta":4.6},{"p":"P","seg":"P05b","nu":0.220,"eta":4.2},
{"p":"P","seg":"P05c","nu":0.152,"eta":3.31},{"p":"P","seg":"P05c","nu":0.133,"eta":3.0},
{"p":"P","seg":"P10a","nu":0.770,"eta":10},{"p":"P","seg":"P10a","nu":0.755,"eta":9.5},{"p":"P","seg":"P10a","nu":0.739,"eta":9.0},
{"p":"P","seg":"P10b","nu":0.690,"eta":8.15},{"p":"P","seg":"P10b","nu":0.657,"eta":7.5},{"p":"P","seg":"P10b","nu":0.625,"eta":6.93},{"p":"P","seg":"P10b","nu":0.580,"eta":6.3},{"p":"P","seg":"P10b","nu":0.528,"eta":5.81},{"p":"P","seg":"P10b","nu":0.487,"eta":5.4},{"p":"P","seg":"P10b","nu":0.446,"eta":4.98},{"p":"P","seg":"P10b","nu":0.389,"eta":4.53},{"p":"P","seg":"P10b","nu":0.353,"eta":4.09},
{"p":"P","seg":"P10c","nu":0.264,"eta":3.31},{"p":"P","seg":"P10c","nu":0.231,"eta":3.0},
{"p":"P","seg":"P20a","nu":1.0,"eta":6.0},{"p":"P","seg":"P20a","nu":0.956,"eta":5.6},{"p":"P","seg":"P20a","nu":0.903,"eta":5.26},{"p":"P","seg":"P20a","nu":0.835,"eta":4.98},{"p":"P","seg":"P20a","nu":0.764,"eta":4.7},{"p":"P","seg":"P20a","nu":0.680,"eta":4.2},
{"p":"P","seg":"P20b","nu":0.510,"eta":3.42},{"p":"P","seg":"P20b","nu":0.417,"eta":3.0},
{"p":"P","seg":"P30","nu":1.0,"eta":4.17},{"p":"P","seg":"P30","nu":0.890,"eta":3.78},{"p":"P","seg":"P30","nu":0.764,"eta":3.42},{"p":"P","seg":"P30","nu":0.635,"eta":3.06},{"p":"P","seg":"P30","nu":0.619,"eta":3.0},
{"p":"D","seg":"D05a","nu":0.0897,"eta":10},{"p":"D","seg":"D05a","nu":0.0845,"eta":8.94},{"p":"D","seg":"D05a","nu":0.0802,"eta":8.14},{"p":"D","seg":"D05a","nu":0.0760,"eta":7.5},{"p":"D","seg":"D05a","nu":0.0712,"eta":6.96},{"p":"D","seg":"D05a","nu":0.0681,"eta":6.71},
{"p":"D","seg":"D05b","nu":0.0593,"eta":5.72},{"p":"D","seg":"D05b","nu":0.0547,"eta":5.3},{"p":"D","seg":"D05b","nu":0.0505,"eta":4.84},
{"p":"D","seg":"D10a","nu":0.175,"eta":10},{"p":"D","seg":"D10a","nu":0.167,"eta":9.4},{"p":"D","seg":"D10a","nu":0.161,"eta":8.94},
{"p":"D","seg":"D10b","nu":0.153,"eta":8.14},{"p":"D","seg":"D10b","nu":0.147,"eta":7.5},{"p":"D","seg":"D10b","nu":0.139,"eta":6.96},{"p":"D","seg":"D10b","nu":0.130,"eta":6.4},{"p":"D","seg":"D10b","nu":0.119,"eta":5.88},{"p":"D","seg":"D10b","nu":0.107,"eta":5.3},{"p":"D","seg":"D10b","nu":0.0961,"eta":4.81},{"p":"D","seg":"D10b","nu":0.0870,"eta":4.4},{"p":"D","seg":"D10b","nu":0.0805,"eta":4.06},
{"p":"D","seg":"D10c","nu":0.0637,"eta":3.31},{"p":"D","seg":"D10c","nu":0.0567,"eta":3.0},
{"p":"D","seg":"D20a","nu":0.342,"eta":10},{"p":"D","seg":"D20a","nu":0.330,"eta":9.4},{"p":"D","seg":"D20a","nu":0.322,"eta":8.94},
{"p":"D","seg":"D20b","nu":0.302,"eta":8.14},{"p":"D","seg":"D20b","nu":0.288,"eta":7.5},{"p":"D","seg":"D20b","nu":0.271,"eta":6.96},{"p":"D","seg":"D20b","nu":0.253,"eta":6.4},{"p":"D","seg":"D20b","nu":0.235,"eta":5.88},{"p":"D","seg":"D20b","nu":0.214,"eta":5.3},{"p":"D","seg":"D20b","nu":0.193,"eta":4.81},{"p":"D","seg":"D20b","nu":0.176,"eta":4.4},{"p":"D","seg":"D20b","nu":0.167,"eta":4.17},
{"p":"D","seg":"D20c","nu":0.133,"eta":3.31},{"p":"D","seg":"D20c","nu":0.117,"eta":3.0},
{"p":"D","seg":"D30a","nu":0.530,"eta":10},{"p":"D","seg":"D30a","nu":0.511,"eta":9.4},{"p":"D","seg":"D30a","nu":0.498,"eta":8.94},
{"p":"D","seg":"D30b","nu":0.463,"eta":8.14},{"p":"D","seg":"D30b","nu":0.443,"eta":7.5},{"p":"D","seg":"D30b","nu":0.417,"eta":6.96},{"p":"D","seg":"D30b","nu":0.389,"eta":6.4},{"p":"D","seg":"D30b","nu":0.361,"eta":5.88},{"p":"D","seg":"D30b","nu":0.332,"eta":5.3},{"p":"D","seg":"D30b","nu":0.305,"eta":4.81},{"p":"D","seg":"D30b","nu":0.282,"eta":4.4},{"p":"D","seg":"D30b","nu":0.266,"eta":4.17},
{"p":"D","seg":"D30c","nu":0.215,"eta":3.36},{"p":"D","seg":"D30c","nu":0.193,"eta":3.0}
],
"labels":[
{"p":"S","lv":"0.05","part":"upper","nu":0.318,"eta":8.79},{"p":"S","lv":"0.1","part":"upper","nu":0.635,"eta":8.7},{"p":"S","lv":"0.05","part":"lower","nu":0.154,"eta":3.78},{"p":"S","lv":"0.1","part":"lower","nu":0.307,"eta":3.7},{"p":"S","lv":"0.2","part":"lower","nu":0.797,"eta":3.73},
{"p":"P","lv":"0.05","part":"upper","nu":0.414,"eta":8.65},{"p":"P","lv":"0.1","part":"upper","nu":0.709,"eta":8.57},{"p":"P","lv":"0.05","part":"lower","nu":0.189,"eta":3.71},{"p":"P","lv":"0.1","part":"lower","nu":0.308,"eta":3.64},{"p":"P","lv":"0.2","part":"lower","nu":0.594,"eta":3.84},
{"p":"D","lv":"0.05","part":"upper","nu":0.0637,"eta":6.19},{"p":"D","lv":"0.1","part":"upper","nu":0.156,"eta":8.5},{"p":"D","lv":"0.2","part":"upper","nu":0.313,"eta":8.54},{"p":"D","lv":"0.3","part":"upper","nu":0.486,"eta":8.57},{"p":"D","lv":"0.1","part":"lower","nu":0.0723,"eta":3.69},{"p":"D","lv":"0.2","part":"lower","nu":0.149,"eta":3.71},{"p":"D","lv":"0.3","part":"lower","nu":0.244,"eta":3.73}
]
},
"hconcat":[
{
"width":275,"height":466,
"layer":[
{"data":{"name":"grid"},
"encoding":{
"x":{"field":"nu","type":"ordinal","sort":"ascending","scale":{"paddingInner":0,"paddingOuter":0,"round":false},"axis":{"orient":"top","labels":false,"ticks":false,"domain":false,"grid":false,"title":"GK Sugama","titleFont":"Liberation Serif","titleFontSize":36,"titleFontWeight":"normal","titleColor":"#000000","titleX":138,"titleY":-13,"titleBaseline":"alphabetic","titleAlign":"center"}},
"y":{"field":"e1","type":"quantitative","scale":{"domain":[3,10],"nice":false,"zero":false},"axis":null},
"y2":{"field":"e2"},
"color":{"field":"S","type":"quantitative","scale":{"type":"linear","domain":[-0.0003,0.15,0.3,0.4003],"range":["#000000","#ff0000","#ffff00","#ffffff"],"interpolate":"rgb","clamp":true},
"legend":{"type":"gradient","orient":"none","legendX":312.5,"legendY":1.5,"direction":"vertical","gradientLength":463,"gradientThickness":29,"gradientStrokeColor":"#262626","gradientStrokeWidth":3,"title":null,"values":[0,0.1,0.2,0.3,0.4],"format":".1~f","labelFont":"Liberation Serif","labelFontSize":36,"labelColor":"#262626","labelOffset":12,"labelOverlap":false,"padding":0}}
},
"layer":[{"mark":{"type":"rect"}},{"mark":{"type":"rect"}},{"mark":{"type":"rect"}}]},
{"encoding":{
"x":{"field":"nu","type":"quantitative","scale":{"type":"log","domain":[0.05,1],"nice":false},"axis":{"orient":"bottom","values":[0.1,1],"labelExpr":"datum.value < 0.5 ? '10⁻¹' : '10⁰'","labelFont":"Liberation Serif","labelFontSize":36,"labelColor":"#262626","labelPadding":12,"labelFlush":false,"labelOverlap":false,"ticks":false,"grid":false,"domainColor":"#262626","domainWidth":1.5,"title":"ν","titleFont":"Liberation Serif","titleFontSize":36,"titleFontStyle":"italic","titleFontWeight":"normal","titleColor":"#262626","titleX":145,"titleY":57,"titleBaseline":"alphabetic","titleAlign":"center","zindex":1}},
"y":{"field":"eta","type":"quantitative","scale":{"domain":[3,10],"nice":false,"zero":false},"axis":{"orient":"left","values":[4,6,8,10],"labelFont":"Liberation Serif","labelFontSize":36,"labelColor":"#262626","labelPadding":11,"labelFlush":false,"labelOverlap":false,"ticks":false,"grid":false,"domainColor":"#262626","domainWidth":1.5,"title":"η","titleFont":"Liberation Serif","titleFontSize":36,"titleFontStyle":"italic","titleFontWeight":"normal","titleColor":"#262626","titleX":-69,"titleY":233,"titleAngle":-90,"titleBaseline":"alphabetic","titleAlign":"center","zindex":1}}
},
"layer":[
{"data":{"name":"lines"},"transform":[{"filter":"datum.p === 'S'"}],"mark":{"type":"line","color":"#000000","strokeWidth":1},"encoding":{"detail":{"field":"seg"},"order":{"field":"eta","type":"quantitative"}}},
{"data":{"name":"labels"},"transform":[{"filter":"datum.p === 'S' && datum.part === 'upper'"}],"mark":{"type":"text","angle":-84,"font":"Liberation Sans","fontSize":21,"color":"#000000","align":"center","baseline":"middle"},"encoding":{"text":{"field":"lv"}}},
{"data":{"name":"labels"},"transform":[{"filter":"datum.p === 'S' && datum.part === 'lower'"}],"mark":{"type":"text","angle":-68,"font":"Liberation Sans","fontSize":21,"color":"#000000","align":"center","baseline":"middle"},"encoding":{"text":{"field":"lv"}}}
]}
],
"resolve":{"scale":{"x":"independent","y":"independent"}}
},
{
"width":297,"height":470,
"layer":[
{"data":{"name":"grid"},
"encoding":{
"x":{"field":"nu","type":"ordinal","sort":"ascending","scale":{"paddingInner":0,"paddingOuter":0,"round":false},"axis":{"orient":"top","labels":false,"ticks":false,"domain":false,"grid":false,"title":"GK Pitch-angle","titleFont":"Liberation Serif","titleFontSize":36,"titleFontWeight":"normal","titleColor":"#000000","titleX":149,"titleY":-13,"titleBaseline":"alphabetic","titleAlign":"center"}},
"y":{"field":"e1","type":"quantitative","scale":{"domain":[3,10],"nice":false,"zero":false},"axis":null},
"y2":{"field":"e2"},
"color":{"field":"P","type":"quantitative","scale":{"type":"linear","domain":[-0.0003,0.15,0.3,0.4003],"range":["#000000","#ff0000","#ffff00","#ffffff"],"interpolate":"rgb","clamp":true},
"legend":{"type":"gradient","orient":"none","legendX":333.5,"legendY":1.5,"direction":"vertical","gradientLength":467,"gradientThickness":29,"gradientStrokeColor":"#262626","gradientStrokeWidth":3,"title":null,"values":[0,0.1,0.2,0.3,0.4],"format":".1~f","labelFont":"Liberation Serif","labelFontSize":36,"labelColor":"#262626","labelOffset":12,"labelOverlap":false,"padding":0}}
},
"layer":[{"mark":{"type":"rect"}},{"mark":{"type":"rect"}},{"mark":{"type":"rect"}}]},
{"encoding":{
"x":{"field":"nu","type":"quantitative","scale":{"type":"log","domain":[0.05,1],"nice":false},"axis":{"orient":"bottom","values":[0.1,1],"labelExpr":"datum.value < 0.5 ? '10⁻¹' : '10⁰'","labelFont":"Liberation Serif","labelFontSize":36,"labelColor":"#262626","labelPadding":12,"labelFlush":false,"labelOverlap":false,"ticks":false,"grid":false,"domainColor":"#262626","domainWidth":1.5,"title":"ν","titleFont":"Liberation Serif","titleFontSize":36,"titleFontStyle":"italic","titleFontWeight":"normal","titleColor":"#262626","titleX":149,"titleY":48,"titleBaseline":"alphabetic","titleAlign":"center","zindex":1}},
"y":{"field":"eta","type":"quantitative","scale":{"domain":[3,10],"nice":false,"zero":false},"axis":{"orient":"left","values":[4,6,8,10],"labelFont":"Liberation Serif","labelFontSize":36,"labelColor":"#262626","labelPadding":11,"labelFlush":false,"labelOverlap":false,"ticks":false,"grid":false,"domainColor":"#262626","domainWidth":1.5,"title":"η","titleFont":"Liberation Serif","titleFontSize":36,"titleFontStyle":"italic","titleFontWeight":"normal","titleColor":"#262626","titleX":-44,"titleY":216,"titleAngle":-90,"titleBaseline":"alphabetic","titleAlign":"center","zindex":1}}
},
"layer":[
{"data":{"name":"lines"},"transform":[{"filter":"datum.p === 'P'"}],"mark":{"type":"line","color":"#000000","strokeWidth":1},"encoding":{"detail":{"field":"seg"},"order":{"field":"eta","type":"quantitative"}}},
{"data":{"name":"labels"},"transform":[{"filter":"datum.p === 'P' && datum.part === 'upper'"}],"mark":{"type":"text","angle":-84,"font":"Liberation Sans","fontSize":21,"color":"#000000","align":"center","baseline":"middle"},"encoding":{"text":{"field":"lv"}}},
{"data":{"name":"labels"},"transform":[{"filter":"datum.p === 'P' && datum.part === 'lower'"}],"mark":{"type":"text","angle":-58,"font":"Liberation Sans","fontSize":21,"color":"#000000","align":"center","baseline":"middle"},"encoding":{"text":{"field":"lv"}}}
]}
],
"resolve":{"scale":{"x":"independent","y":"independent"}}
},
{
"width":280,"height":484,
"layer":[
{"data":{"name":"grid"},
"encoding":{
"x":{"field":"nu","type":"ordinal","sort":"ascending","scale":{"paddingInner":0,"paddingOuter":0,"round":false},"axis":{"orient":"top","labels":false,"ticks":false,"domain":false,"grid":false,"title":"GK Dougherty","titleFont":"Liberation Serif","titleFontSize":36,"titleFontWeight":"normal","titleColor":"#000000","titleX":140,"titleY":-16,"titleBaseline":"alphabetic","titleAlign":"center"}},
"y":{"field":"e1","type":"quantitative","scale":{"domain":[3,10],"nice":false,"zero":false},"axis":null},
"y2":{"field":"e2"},
"color":{"field":"D","type":"quantitative","scale":{"type":"linear","domain":[-0.0003,0.15,0.3,0.4003],"range":["#000000","#ff0000","#ffff00","#ffffff"],"interpolate":"rgb","clamp":true},
"legend":{"type":"gradient","orient":"none","legendX":324.5,"legendY":-0.5,"direction":"vertical","gradientLength":487,"gradientThickness":29,"gradientStrokeColor":"#262626","gradientStrokeWidth":3,"title":null,"values":[0,0.1,0.2,0.3,0.4],"format":".1~f","labelFont":"Liberation Serif","labelFontSize":36,"labelColor":"#262626","labelOffset":12,"labelOverlap":false,"padding":0}}
},
"layer":[{"mark":{"type":"rect"}},{"mark":{"type":"rect"}},{"mark":{"type":"rect"}}]},
{"encoding":{
"x":{"field":"nu","type":"quantitative","scale":{"type":"log","domain":[0.05,1],"nice":false},"axis":{"orient":"bottom","values":[0.1,1],"labelExpr":"datum.value < 0.5 ? '10⁻¹' : '10⁰'","labelFont":"Liberation Serif","labelFontSize":36,"labelColor":"#262626","labelPadding":12,"labelFlush":false,"labelOverlap":false,"ticks":false,"grid":false,"domainColor":"#262626","domainWidth":1.5,"title":"ν","titleFont":"Liberation Serif","titleFontSize":36,"titleFontStyle":"italic","titleFontWeight":"normal","titleColor":"#262626","titleX":156,"titleY":46,"titleBaseline":"alphabetic","titleAlign":"center","zindex":1}},
"y":{"field":"eta","type":"quantitative","scale":{"domain":[3,10],"nice":false,"zero":false},"axis":{"orient":"left","values":[4,6,8,10],"labelFont":"Liberation Serif","labelFontSize":36,"labelColor":"#262626","labelPadding":12,"labelFlush":false,"labelOverlap":false,"ticks":false,"grid":false,"domainColor":"#262626","domainWidth":1.5,"title":"η","titleFont":"Liberation Serif","titleFontSize":36,"titleFontStyle":"italic","titleFontWeight":"normal","titleColor":"#262626","titleX":-42,"titleY":225,"titleAngle":-90,"titleBaseline":"alphabetic","titleAlign":"center","zindex":1}}
},
"layer":[
{"data":{"name":"lines"},"transform":[{"filter":"datum.p === 'D'"}],"mark":{"type":"line","color":"#000000","strokeWidth":1},"encoding":{"detail":{"field":"seg"},"order":{"field":"eta","type":"quantitative"}}},
{"data":{"name":"labels"},"transform":[{"filter":"datum.p === 'D' && datum.part === 'upper'"}],"mark":{"type":"text","angle":-84,"font":"Liberation Sans","fontSize":21,"color":"#000000","align":"center","baseline":"middle"},"encoding":{"text":{"field":"lv"}}},
{"data":{"name":"labels"},"transform":[{"filter":"datum.p === 'D' && datum.part === 'lower'"}],"mark":{"type":"text","angle":-68,"font":"Liberation Sans","fontSize":21,"color":"#000000","align":"center","baseline":"middle"},"encoding":{"text":{"field":"lv"}}}
]}
],
"resolve":{"scale":{"x":"independent","y":"independent"}}
}
],
"spacing":207.5,
"bounds":"flush",
"resolve":{"scale":{"color":"independent"},"legend":{"color":"independent"}}
}
